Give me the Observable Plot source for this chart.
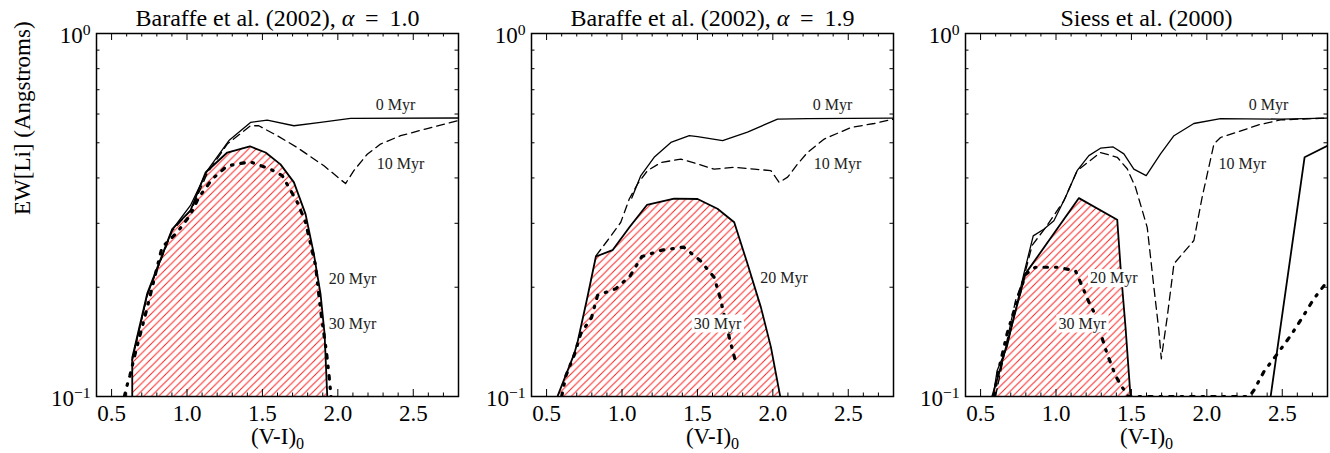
<!DOCTYPE html>
<html><head><meta charset="utf-8">
<script src="https://cdn.jsdelivr.net/npm/d3@7"></script>
<script src="https://cdn.jsdelivr.net/npm/@observablehq/plot@0.6"></script>
<style>
html,body{margin:0;padding:0;background:#fff;}
#chart{position:relative;width:1330px;height:453px;overflow:hidden;}
#chart svg{position:absolute;top:0;}
</style></head><body><div id="chart"></div>
<script>
// ---------- text / ticks ----------
const titles = ["Baraffe et al. (2002), α = 1.0", "Baraffe et al. (2002), α = 1.9", "Siess et al. (2000)"];
const xLabel = "(V-I)_0";
const yLabel = "EW[Li] (Angstroms)";
const xMajorTicks = [0.5, 1.0, 1.5, 2.0, 2.5];
const xMinorTicks = [0.4, 0.6, 0.7, 0.8, 0.9, 1.1, 1.2, 1.3, 1.4, 1.6, 1.7, 1.8, 1.9, 2.1, 2.2, 2.3, 2.4, 2.6, 2.7, 2.8];
const yMajorTicks = [0.1, 1];
const yMinorTicks = [0.2, 0.3, 0.4, 0.5, 0.6, 0.7, 0.8, 0.9];
const yTickLabels = ["10^−1", "10^0"];
const xDomain = [0.4, 2.8];
const yDomain = [0.1, 1];
const ageNames = ["0 Myr", "10 Myr", "20 Myr", "30 Myr"];

// ---------- Baraffe et al. (2002), alpha = 1.0 : [V-I, EW] ----------
const bA_0Myr = [[0.637,0.126],[0.736,0.190],[0.902,0.288],[1.023,0.336],[1.134,0.419],[1.278,0.507],[1.421,0.569],[1.532,0.577],[1.709,0.557],[1.885,0.569],[2.084,0.584],[2.8,0.585]];
const bA_10Myr = [[0.637,0.126],[0.736,0.190],[0.902,0.286],[1.034,0.330],[1.134,0.412],[1.267,0.496],[1.421,0.557],[1.476,0.557],[1.598,0.523],[1.731,0.485],[1.908,0.432],[2.051,0.386],[2.106,0.419],[2.195,0.465],[2.283,0.496],[2.416,0.523],[2.593,0.547],[2.8,0.576]];
const bA_20Myr = [[0.637,0.1],[0.637,0.128],[0.736,0.192],[0.902,0.289],[1.023,0.325],[1.123,0.414],[1.267,0.470],[1.417,0.489],[1.521,0.470],[1.620,0.436],[1.709,0.389],[1.786,0.318],[1.841,0.247],[1.885,0.192],[1.912,0.149],[1.930,0.1]];
const bA_30Myr = [[0.585,0.1],[0.599,0.106],[0.621,0.114],[0.654,0.130],[0.729,0.171],[0.835,0.258],[0.931,0.282],[1.019,0.315],[1.079,0.354],[1.167,0.397],[1.267,0.432],[1.417,0.443],[1.554,0.423],[1.631,0.406],[1.731,0.343],[1.786,0.302],[1.852,0.230],[1.885,0.174],[1.925,0.132],[1.941,0.115],[1.955,0.1]];
const bA_labels = [[2.383,0.634],[2.416,0.436],[2.098,0.211],[2.098,0.159]];

// ---------- Baraffe et al. (2002), alpha = 1.9 ----------
const bB_0Myr = [[1.065,0.352],[1.125,0.406],[1.213,0.456],[1.324,0.501],[1.446,0.523],[1.501,0.520],[1.667,0.507],[1.832,0.535],[2.031,0.581],[2.230,0.583],[2.8,0.585]];
const bB_10Myr = [[0.827,0.244],[0.904,0.269],[0.992,0.302],[1.048,0.350],[1.103,0.385],[1.169,0.419],[1.258,0.441],[1.390,0.451],[1.501,0.437],[1.611,0.423],[1.744,0.428],[1.877,0.423],[1.987,0.419],[2.042,0.389],[2.098,0.402],[2.164,0.437],[2.230,0.470],[2.341,0.512],[2.518,0.551],[2.672,0.565],[2.8,0.581]];
const bB_20Myr = [[0.572,0.1],[0.683,0.131],[0.705,0.141],[0.771,0.188],[0.827,0.243],[0.937,0.253],[1.048,0.292],[1.165,0.337],[1.346,0.351],[1.501,0.350],[1.633,0.329],[1.744,0.302],[1.832,0.232],[1.921,0.176],[1.987,0.137],[2.049,0.1]];
const bB_30Myr = [[0.600,0.1],[0.628,0.114],[0.683,0.130],[0.727,0.149],[0.798,0.165],[0.838,0.190],[0.959,0.198],[1.054,0.215],[1.132,0.243],[1.264,0.253],[1.408,0.258],[1.518,0.237],[1.611,0.213],[1.651,0.187],[1.717,0.142],[1.755,0.124]];
const bB_labels = [[2.396,0.634],[2.429,0.436],[2.075,0.212],[1.633,0.159]];

// ---------- Siess et al. (2000) ----------
const s_0Myr = [[0.583,0.1],[0.610,0.118],[0.676,0.137],[0.787,0.218],[0.849,0.277],[0.919,0.289],[0.986,0.305],[1.063,0.354],[1.140,0.419],[1.218,0.461],[1.295,0.483],[1.379,0.487],[1.450,0.466],[1.516,0.423],[1.598,0.406],[1.693,0.466],[1.782,0.523],[1.914,0.565],[2.091,0.583],[2.489,0.581],[2.8,0.585]];
const s_10Myr = [[0.599,0.1],[0.676,0.143],[0.732,0.184],[0.787,0.213],[0.842,0.261],[0.931,0.292],[1.052,0.346],[1.140,0.419],[1.295,0.470],[1.406,0.456],[1.472,0.424],[1.527,0.377],[1.605,0.292],[1.649,0.200],[1.682,0.152],[1.698,0.127],[1.737,0.165],[1.782,0.232],[1.914,0.269],[1.969,0.354],[2.047,0.496],[2.091,0.517],[2.356,0.562],[2.489,0.578],[2.8,0.585]];
const s_20Myr = [[0.577,0.1],[0.632,0.120],[0.698,0.152],[0.798,0.218],[1.152,0.352],[1.406,0.307],[1.428,0.227],[1.461,0.155],[1.494,0.1],[null,null],[2.423,0.1],[2.648,0.456],[2.8,0.491]];
const s_30Myr = [[0.590,0.1],[0.599,0.106],[0.621,0.119],[0.676,0.149],[0.743,0.184],[0.798,0.217],[0.864,0.227],[1.008,0.227],[1.129,0.222],[1.163,0.206],[1.218,0.182],[1.251,0.171],[1.339,0.131],[1.395,0.114],[1.439,0.106],[1.480,0.1],[2.280,0.1],[2.312,0.104],[2.378,0.117],[2.467,0.131],[2.555,0.147],[2.633,0.165],[2.710,0.186],[2.8,0.208]];
const s_labels = [[2.409,0.634],[2.235,0.436],[1.383,0.212],[1.174,0.159]];

const panels = [
  {title: titles[0], c0: bA_0Myr, c10: bA_10Myr, c20: bA_20Myr, c30: bA_30Myr, labels: bA_labels, hatchMax: 2.1, left: 0},
  {title: titles[1], c0: bB_0Myr, c10: bB_10Myr, c20: bB_20Myr, c30: bB_30Myr, labels: bB_labels, hatchMax: 2.1, left: 435},
  {title: titles[2], c0: s_0Myr, c10: s_10Myr, c20: s_20Myr, c30: s_30Myr, labels: s_labels, hatchMax: 1.6, left: 869}
];

const W = 461, H = 453, mL = 96, mR = 3, mT = 33, mB = 57;
const frameH = H - mT - mB, frameW = W - mL - mR;
const X = d => d[0], Y = d => d[1];
const font = "'Liberation Serif', 'DejaVu Serif', serif";
const container = document.getElementById("chart");
const HS = 7.5; // hatch spacing

panels.forEach((p, i) => {
  const hatch = p.c20.filter(d => d[0] != null && d[0] <= p.hatchMax);
  const labelData = p.labels.map((d, k) => ({x: d[0], y: d[1], t: ageNames[k]}));
  const marks = [
    Plot.areaY(hatch, {x: X, y1: () => yDomain[0], y2: Y, fill: `url(#hatch${i})`, clip: true}),
    Plot.line(p.c0, {x: X, y: Y, stroke: "black", strokeWidth: 1.3, clip: true}),
    Plot.line(p.c10, {x: X, y: Y, stroke: "black", strokeWidth: 1.3, strokeDasharray: "8,5", clip: true}),
    Plot.line(p.c30, {x: X, y: Y, stroke: "black", strokeWidth: 3.2, strokeDasharray: "3.5,8,1.5,8", clip: true}),
    Plot.line(p.c20, {x: X, y: Y, stroke: "black", strokeWidth: 1.8, clip: true}),
    // ticks inside the frame, all four sides
    Plot.ruleX(xMajorTicks, {x: d => d, insetTop: frameH - 7, stroke: "black"}),
    Plot.ruleX(xMinorTicks, {x: d => d, insetTop: frameH - 3.5, stroke: "black"}),
    Plot.ruleX(xMajorTicks, {x: d => d, insetBottom: frameH - 7, stroke: "black"}),
    Plot.ruleX(xMinorTicks, {x: d => d, insetBottom: frameH - 3.5, stroke: "black"}),
    Plot.ruleY(yMajorTicks, {y: d => d, insetRight: frameW - 7, stroke: "black"}),
    Plot.ruleY(yMinorTicks, {y: d => d, insetRight: frameW - 3.5, stroke: "black"}),
    Plot.ruleY(yMajorTicks, {y: d => d, insetLeft: frameW - 7, stroke: "black"}),
    Plot.ruleY(yMinorTicks, {y: d => d, insetLeft: frameW - 3.5, stroke: "black"}),
    Plot.frame({stroke: "black", strokeWidth: 1.5}),
    Plot.axisX({ticks: xMajorTicks, tickSize: 0, tickPadding: 8, tickFormat: d3.format(".1f"), fontSize: 23, label: null}),
    Plot.axisY({ticks: yMajorTicks, tickSize: 0, tickPadding: 6, tickFormat: d => yTickLabels[yMajorTicks.indexOf(d)], fontSize: 23, label: null, dy: 2}),
    Plot.text(labelData, {x: "x", y: "y", text: "t", fontSize: 16, fill: "#222"}),
    Plot.text([p.title], {frameAnchor: "top", dy: -8, lineAnchor: "bottom", fontSize: 24}),
    Plot.text([xLabel], {frameAnchor: "bottom", dy: 40, lineAnchor: "middle", fontSize: 23})
  ];
  if (i === 0) marks.push(Plot.text([yLabel], {frameAnchor: "left", dx: -74, rotate: -90, fontSize: 23}));
  const svg = Plot.plot({
    width: W, height: H, marginLeft: mL, marginRight: mR, marginTop: mT, marginBottom: mB,
    x: {domain: xDomain},
    y: {type: "log", domain: yDomain},
    style: {fontFamily: font, background: "none", overflow: "visible", color: "black"},
    marks
  });
  svg.style.left = p.left + "px";
  const defs = d3.select(svg).insert("defs", ":first-child");
  const pat = defs.append("pattern").attr("id", `hatch${i}`).attr("patternUnits", "userSpaceOnUse")
    .attr("width", HS).attr("height", HS);
  pat.append("rect").attr("width", HS).attr("height", HS).attr("fill", "white");
  pat.append("path").attr("d", `M0,${HS} L${HS},0 M-1,1 L1,-1 M${HS-1},${HS+1} L${HS+1},${HS-1}`)
    .attr("stroke", "#ff1a1a").attr("stroke-width", 0.95);
  container.appendChild(svg);
});

// post-processing of text by content: superscripts, subscripts, italic alpha, white label boxes
const SVGNS = "http://www.w3.org/2000/svg";
document.querySelectorAll("#chart text").forEach(t => {
  const txt = t.textContent;
  if (yTickLabels.includes(txt)) {
    const [base, exp] = txt.split("^");
    t.textContent = base;
    const s = document.createElementNS(SVGNS, "tspan");
    s.setAttribute("dy", "-0.5em"); s.setAttribute("font-size", "68%"); s.textContent = exp;
    t.appendChild(s);
  } else if (txt === xLabel) {
    const [base, sub] = txt.split("_");
    t.textContent = base;
    const s = document.createElementNS(SVGNS, "tspan");
    s.setAttribute("dy", "0.3em"); s.setAttribute("font-size", "70%"); s.textContent = sub;
    t.appendChild(s);
  } else if (titles.includes(txt) && txt.includes("α")) {
    const [a, b] = txt.split("α");
    t.textContent = a;
    const s = document.createElementNS(SVGNS, "tspan");
    s.setAttribute("font-style", "italic"); s.textContent = "α";
    t.appendChild(s);
    t.appendChild(document.createTextNode(b.replace("=", "\u2009=\u2009")));
  } else if (ageNames.includes(txt)) {
    const b = t.getBBox();
    const r = document.createElementNS(SVGNS, "rect");
    r.setAttribute("x", b.x - 2); r.setAttribute("y", b.y);
    r.setAttribute("width", b.width + 4); r.setAttribute("height", b.height);
    r.setAttribute("fill", "white");
    if (t.getAttribute("transform")) r.setAttribute("transform", t.getAttribute("transform"));
    t.parentNode.insertBefore(r, t);
  }
});
</script></body></html>
